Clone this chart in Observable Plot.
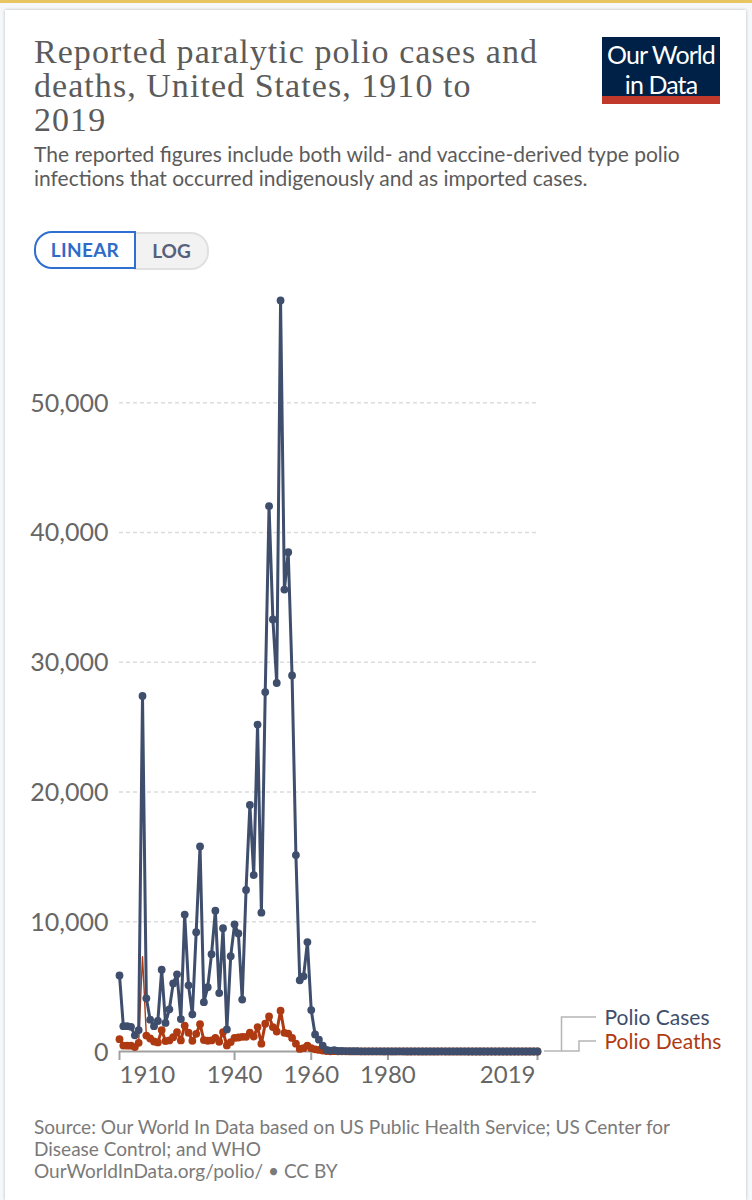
<!DOCTYPE html>
<html><head><meta charset="utf-8">
<script src="https://cdn.jsdelivr.net/npm/d3@7"></script>
<script src="https://cdn.jsdelivr.net/npm/@observablehq/plot@0.6"></script>
<style>
html,body{margin:0;padding:0;background:#f6f7f8;}
#page{position:relative;width:752px;height:1200px;overflow:hidden;font-family:Lato,sans-serif;background:#f6f7f8;}
#band{position:absolute;left:0;top:0;width:752px;height:3px;background:#e9c55f;}
#card{position:absolute;left:5px;top:10px;width:741px;height:1190px;background:#fff;box-shadow:0 0 3px rgba(0,0,0,.25);}
.abs{position:absolute;white-space:nowrap;}
.title{left:34px;font-family:"Liberation Serif",serif;font-size:34px;letter-spacing:1.05px;line-height:34px;color:#5b5b5b;}
.sub{left:34px;font-size:21px;line-height:24px;color:#5b5b5b;}
.src{left:34px;font-size:19.05px;line-height:22px;color:#7a7a7a;}
#logo{position:absolute;left:602px;top:37px;width:118px;height:67px;background:#002147;color:#fff;text-align:center;font-size:25px;line-height:30px;letter-spacing:-.9px;}
#logo div{position:relative;top:2px;}
#logo i{position:absolute;left:0;bottom:0;width:100%;height:8px;background:#c0392b;}
#lin{position:absolute;left:34px;top:231px;width:98px;height:34px;border:2px solid #2f6fd0;border-radius:18px 0 0 18px;background:#fff;color:#2f6bc9;font-weight:700;font-size:19px;line-height:33px;text-align:center;letter-spacing:.3px;z-index:2;}
#log{position:absolute;left:134px;top:232px;width:71px;height:34px;border:2px solid #e0e0e0;border-left:none;border-radius:0 18px 18px 0;background:#f2f2f2;color:#55617a;font-weight:700;font-size:19px;line-height:33px;text-align:center;padding-left:2px;box-sizing:content-box;}
#plot{position:absolute;left:0;top:280px;}
#conn{position:absolute;left:0;top:0;pointer-events:none;}
</style></head><body>
<div id="page">
<div id="band"></div><div id="card"></div>
<div class="abs title" style="top:35px">Reported paralytic polio cases and</div>
<div class="abs title" style="top:69px">deaths, United States, 1910 to</div>
<div class="abs title" style="top:103px">2019</div>
<div class="abs sub" style="top:142px">The reported figures include both wild- and vaccine-derived type polio</div>
<div class="abs sub" style="top:166px">infections that occurred indigenously and as imported cases.</div>
<div id="logo"><div>Our World<br>in Data</div><i></i></div>
<div id="lin">LINEAR</div><div id="log">LOG</div>
<div id="plot"></div>
<svg id="conn" width="752" height="1200" fill="none" stroke="#b5b5b5" stroke-width="1.5">
<path d="M544 1051H561.5V1017H596"/><path d="M561.5 1051H579V1041H596"/>
</svg>
<div class="abs src" style="top:1116px">Source: Our World In Data based on US Public Health Service; US Center for</div>
<div class="abs src" style="top:1138px">Disease Control; and WHO</div>
<div class="abs src" style="top:1160px">OurWorldInData.org/polio/ • CC BY</div>
</div>
<script>
const years = d3.range(1910, 2020);
const casesValues = [
 5860,1950,1950,1900,1250,1650,27400,4100,2450,1950,2350,6300,2200,3250,5250,5950,2500,10550,5100,2850,
 9200,15800,3800,4950,7500,10850,4500,9500,1700,7350,9800,9100,4000,12450,19000,13600,25200,10700,27700,42030,
 33300,28400,57880,35600,38480,28980,15140,5490,5790,8430,3190,1310,910,450,120,70,105,40,55,35,
 30,25,30,15,10,15,12,10,10,8,10,8,8,10,8,8,8,10,6,8,
 8,8,6,6,10,5,5,4,3,2,2,1,1,1,1,0,0,0,0,0,
 0,0,0,0,0,1,0,0,0,0
];
const deathsValues = [
 950,460,450,450,340,670,7300,1230,1000,770,700,1650,800,850,1100,1500,850,2000,1450,820,
 1360,2100,880,830,850,1050,750,1500,470,730,1050,1080,1130,1130,1450,1150,1880,600,2140,2700,
 1880,1540,3150,1440,1380,1050,600,200,260,460,260,170,120,70,40,20,25,15,10,10,
 8,8,6,6,5,5,4,4,3,3,3,2,2,2,2,1,1,1,1,1,
 1,1,1,1,1,0,0,0,0,0,0,0,0,0,0,0,0,0,0,0,
 0,0,0,0,0,0,0,0,0,0
];
const yTicks = [0,10000,20000,30000,40000,50000];
const xTicks = [1910,1940,1960,1980,2019];
const xLabelAnchors = ["start","middle","middle","middle","end"];
const spikeYears = [1915,1916,1917];
const seriesLabels = ["Polio Cases","Polio Deaths"];
const seriesColors = ["#3e4e6c","#ae3a12"];
const legendRows = [{label:seriesLabels[0],color:seriesColors[0],dy:-33},{label:seriesLabels[1],color:seriesColors[1],dy:-9}];
const cases = years.map((y,i)=>({year:y,value:casesValues[i]}));
const deaths = years.map((y,i)=>({year:y,value:deathsValues[i]}));
const xt = xTicks.map((t,i)=>({t,anchor:xLabelAnchors[i],dx:t===2019?-2:0}));
const chart = Plot.plot({
  width:752,height:831,marginLeft:119,marginRight:215,marginTop:20,marginBottom:60,
  style:{fontFamily:"Lato,sans-serif",background:"transparent",overflow:"visible"},
  x:{domain:[1910,2019]},y:{domain:[0,57880]},
  marks:[
    Plot.ruleY(yTicks.filter(d=>d>0),{stroke:"#dcdcdc",strokeWidth:1.5,strokeDasharray:"4,3"}),
    Plot.axisY({ticks:yTicks,tickSize:0,tickPadding:11,fontSize:25,fill:"#666",label:null,dy:1,tickFormat:d3.format(",")}),
    Plot.ruleY([0],{stroke:"#a0a0a0",strokeWidth:2}),
    Plot.axisX({ticks:xTicks,tickSize:9,stroke:"#a0a0a0",strokeWidth:2,tickFormat:()=>"",label:null}),
    ...xt.map(d=>Plot.text([d],{x:"t",y:()=>0,text:e=>String(e.t),textAnchor:d.anchor,dx:d.dx,dy:24,fontSize:24,fill:"#666"})),
    Plot.line(deaths.filter(d=>d.year<=1915),{x:"year",y:"value",stroke:seriesColors[1],strokeWidth:3}),
    Plot.line(deaths.filter(d=>spikeYears.includes(d.year)),{x:"year",y:"value",stroke:seriesColors[1],strokeWidth:1.4}),
    Plot.line(deaths.filter(d=>d.year>=1917),{x:"year",y:"value",stroke:seriesColors[1],strokeWidth:3}),
    Plot.dot(deaths.filter(d=>d.value<7000),{x:"year",y:"value",r:3.9,fill:seriesColors[1]}),
    Plot.line(cases,{x:"year",y:"value",stroke:seriesColors[0],strokeWidth:3}),
    Plot.dot(cases,{x:"year",y:"value",r:3.9,fill:seriesColors[0]}),
    ...legendRows.map(r=>Plot.text([r],{x:()=>2019,y:()=>0,text:"label",textAnchor:"start",dx:67,dy:r.dy,fontSize:21,fill:r.color}))
  ]
});
document.getElementById("plot").appendChild(chart);
</script>
</body></html>
